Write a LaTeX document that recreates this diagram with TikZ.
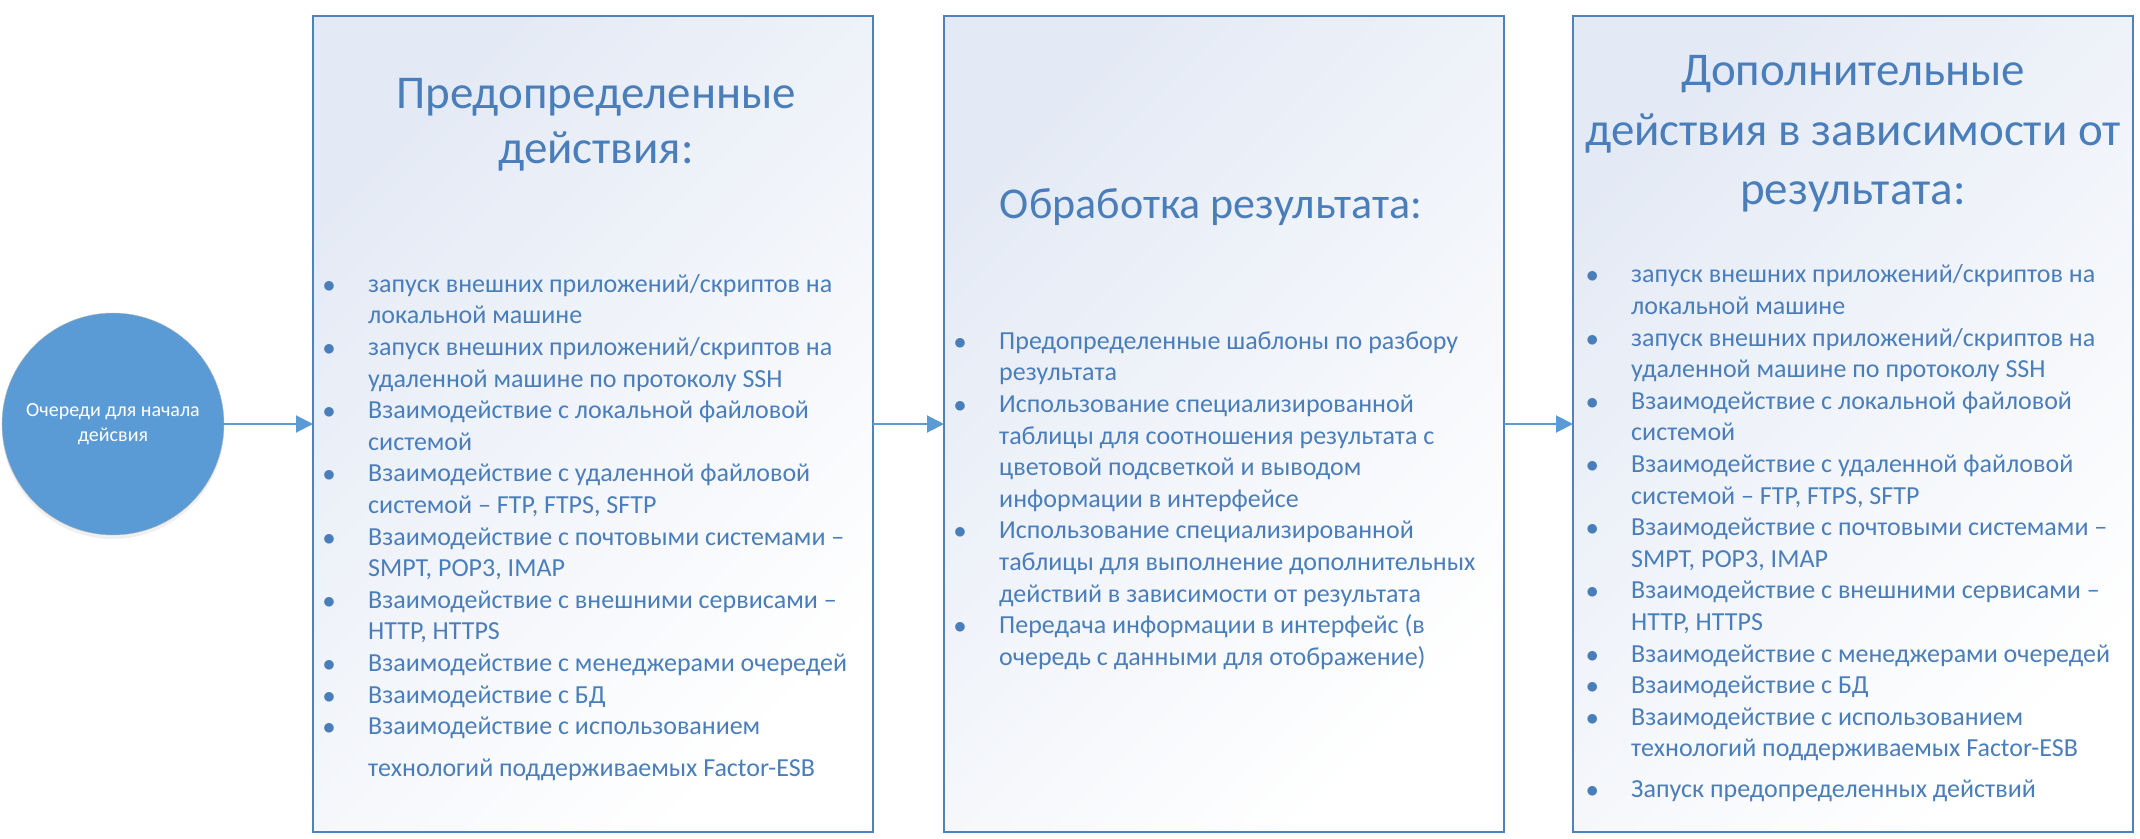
\documentclass[tikz,border=0pt]{standalone}
\usepackage{fontspec}
\setmainfont{Carlito}
\usetikzlibrary{positioning,arrows.meta,shadows}
\definecolor{qblue}{HTML}{5B9BD5}
\definecolor{lineblue}{HTML}{4F81BD}
\definecolor{txtblue}{HTML}{4A7EBB}
\definecolor{paneshade}{HTML}{E4EAF5}
\newcommand{\bul}{\strut\makebox[32pt][c]{$\bullet$}\hspace*{23pt}}
\newcommand{\ind}{\hspace*{55pt}}

\begin{document}
\begin{tikzpicture}[
    x=1pt, y=-1pt,
    pane/.style={rectangle, draw=lineblue, line width=2pt, minimum width=560pt, minimum height=816pt,
      inner sep=0pt, outer sep=0pt, top color=paneshade, bottom color=white, shading angle=45},
    queue/.style={circle, draw=gray!55, fill=qblue, minimum size=222pt, inner sep=0pt, outer sep=0pt,
      text=white, align=center, font=\fontsize{20}{25}\selectfont,
      drop shadow={opacity=0.12, shadow xshift=0pt, shadow yshift=-4pt}},
    head/.style={inner sep=0pt, align=center, text=txtblue, font=\fontsize{47}{55}\selectfont},
    list/.style={inner sep=0pt, align=left, text=txtblue, font=\fontsize{26}{31.6}\selectfont},
    flow/.style={-{Triangle[length=17pt,width=17pt]}, line width=2pt, draw=qblue}
  ]
  \useasboundingbox (0,0) rectangle (2140,838);

  % Panes
  \node[pane] (pre) at (593,424) {};
  \node[pane, right=71pt of pre] (proc) {};
  \node[pane, right=69pt of proc] (post) {};

  % Start queue
  \node[queue, left=89pt of pre] (queue) {Очереди для начала\\дейсвия};

  % Headings
  \node[head, below=54pt of pre.north, xshift=3pt] (prehead) {\strut Предопределенные\\действия:};
  \node[head, below=163pt of proc.north, xshift=-13pt, font=\fontsize{44}{56}\selectfont] (prochead)
    {\strut Обработка результата:};
  \node[head, below=28pt of post.north, font=\fontsize{47}{59.5}\selectfont] (posthead)
    {\strut Дополнительные\\действия в зависимости от\\результата:};

  % Lists
  \node[list, below right=254pt and 0pt of pre.north west] (prelist) {%
    \bul запуск внешних приложений/скриптов на\\
    \ind локальной машине\\
    \bul запуск внешних приложений/скриптов на\\
    \ind удаленной машине по протоколу SSH\\
    \bul Взаимодействие с локальной файловой\\
    \ind системой\\
    \bul Взаимодействие с удаленной файловой\\
    \ind системой – FTP, FTPS, SFTP\\
    \bul Взаимодействие с почтовыми системами –\\
    \ind SMPT, POP3, IMAP\\
    \bul Взаимодействие с внешними сервисами –\\
    \ind HTTP, HTTPS\\
    \bul Взаимодействие с менеджерами очередей\\
    \bul Взаимодействие с БД\\
    \bul Взаимодействие с использованием\\[10pt]
    \ind технологий поддерживаемых Factor-ESB};
  \node[list, below right=311pt and 0pt of proc.north west] (proclist) {%
    \bul Предопределенные шаблоны по разбору\\
    \ind результата\\
    \bul Использование специализированной\\
    \ind таблицы для соотношения результата с\\
    \ind цветовой подсветкой и выводом\\
    \ind информации в интерфейсе\\
    \bul Использование специализированной\\
    \ind таблицы для выполнение дополнительных\\
    \ind действий в зависимости от результата\\
    \bul Передача информации в интерфейс (в\\
    \ind очередь с данными для отображение)};
  \node[list, below right=244.5pt and 3pt of post.north west] (postlist) {%
    \bul запуск внешних приложений/скриптов на\\
    \ind локальной машине\\
    \bul запуск внешних приложений/скриптов на\\
    \ind удаленной машине по протоколу SSH\\
    \bul Взаимодействие с локальной файловой\\
    \ind системой\\
    \bul Взаимодействие с удаленной файловой\\
    \ind системой – FTP, FTPS, SFTP\\
    \bul Взаимодействие с почтовыми системами –\\
    \ind SMPT, POP3, IMAP\\
    \bul Взаимодействие с внешними сервисами –\\
    \ind HTTP, HTTPS\\
    \bul Взаимодействие с менеджерами очередей\\
    \bul Взаимодействие с БД\\
    \bul Взаимодействие с использованием\\
    \ind технологий поддерживаемых Factor-ESB\\[9.5pt]
    \bul Запуск предопределенных действий};

  % Flow
  \draw[flow] (queue) -- (pre);
  \draw[flow] (pre) -- (proc);
  \draw[flow] (proc) -- (post);
\end{tikzpicture}
\end{document}
